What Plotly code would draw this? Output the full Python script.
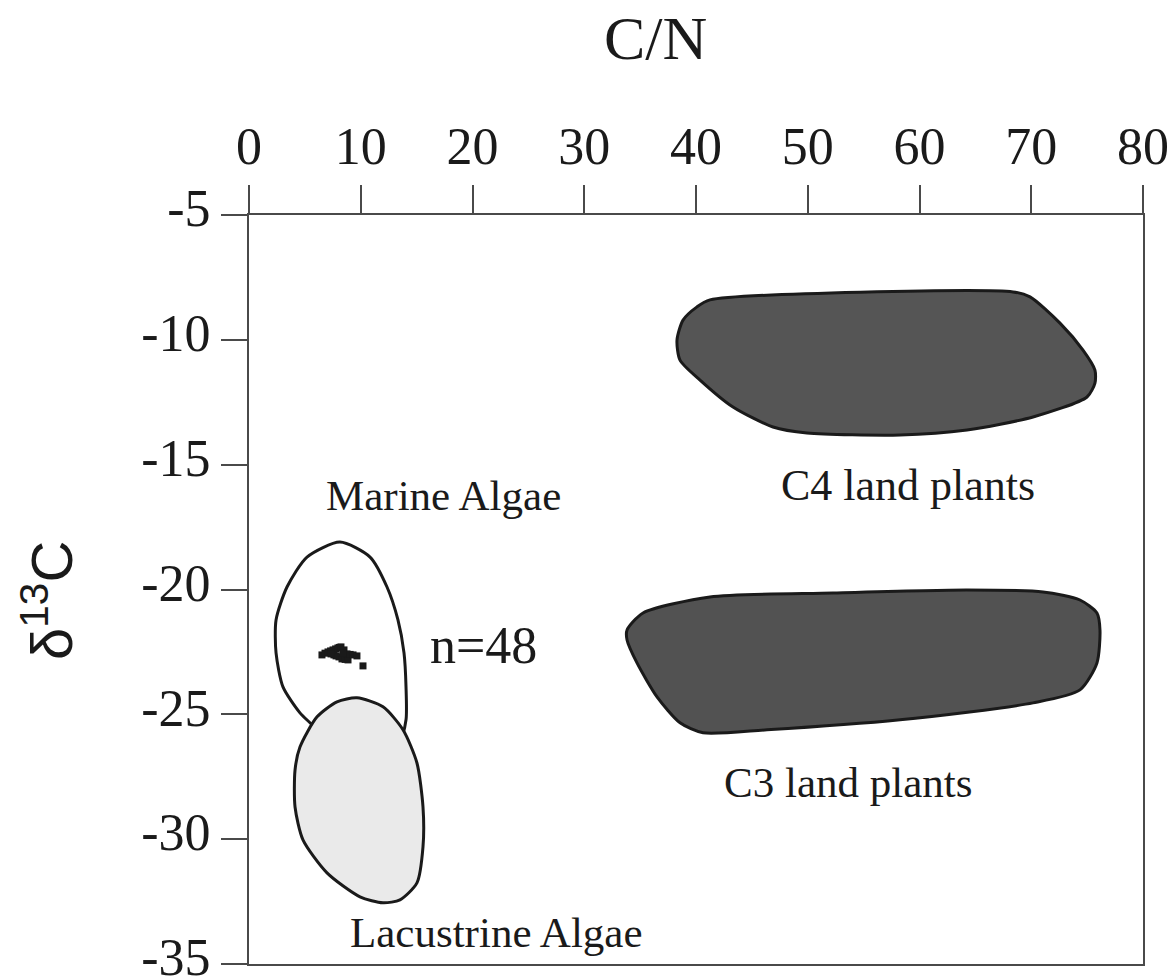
import plotly.graph_objects as go

# Source fields on the C/N vs d13C plane (outline vertices, C/N and d13C)
marine_cn = [8.14, 10.83, 12.35, 13.33, 13.87, 14.05, 14.05, 13.51, 10.83, 7.25,
             5.64, 4.56, 3.04, 2.42, 2.42, 3.40, 5.19, 8.14]
marine_d13c = [-18.10, -18.70, -19.90, -21.22, -22.54, -23.90, -25.22, -26.03, -26.51, -26.23,
               -25.42, -24.94, -23.90, -22.54, -21.22, -19.90, -18.70, -18.10]

lacustrine_cn = [9.66, 11.99, 13.78, 15.03, 15.57, 15.57, 15.03, 13.51, 11.99, 9.93,
                 6.98, 4.83, 4.12, 4.12, 4.56, 6.09, 7.87, 9.66]
lacustrine_d13c = [-24.34, -24.70, -25.62, -26.95, -28.71, -30.31, -31.75, -32.43, -32.55, -32.31,
                   -31.35, -30.03, -28.71, -27.23, -26.31, -25.10, -24.50, -24.34]

c4_cn = [41.25, 68.37, 69.89, 72.57, 74.63, 75.70, 75.70, 74.99, 70.16, 64.25,
         58.26, 49.93, 46.89, 43.31, 40.36, 38.57, 38.30, 38.84, 40.09, 41.25]
c4_d13c = [-8.40, -8.08, -8.28, -9.33, -10.41, -11.21, -11.73, -12.29, -13.09, -13.61,
           -13.81, -13.73, -13.49, -12.69, -11.61, -10.81, -10.01, -9.21, -8.68, -8.40]

c3_cn = [33.83, 35.26, 41.25, 52.26, 64.25, 71.05, 74.36, 75.88, 76.15, 75.88,
         74.36, 70.16, 58.26, 46.35, 40.63, 38.57, 36.51, 34.72, 33.83, 33.83]
c3_d13c = [-21.62, -20.94, -20.30, -20.14, -20.02, -20.10, -20.42, -20.94, -21.62, -22.94,
           -24.02, -24.54, -25.22, -25.62, -25.74, -25.34, -24.30, -22.94, -22.02, -21.62]

# Measured samples (n=48, many overlapping)
sample_cn = [6.53, 6.80, 7.07, 7.30, 7.52, 7.75, 7.96, 8.10, 8.23, 8.50,
             7.60, 7.79, 8.05, 8.32, 8.60, 8.86, 8.77, 9.05, 9.31, 9.66,
             7.34, 8.40, 10.20]
sample_d13c = [-22.62, -22.55, -22.50, -22.46, -22.42, -22.38, -22.34, -22.32, -22.30, -22.42,
               -22.62, -22.66, -22.70, -22.78, -22.80, -22.82, -22.58, -22.60, -22.62, -22.66,
               -22.58, -22.55, -23.06]

x_ticks = [0, 10, 20, 30, 40, 50, 60, 70, 80]
x_ticktext = ["0", "10", "20", "30", "40", "50", "60", "70", "80"]
y_ticks = [-5, -10, -15, -20, -25, -30, -35]
y_ticktext = ["-5", "-10", "-15", "-20", "-25", "-30", "-35"]

SERIF = "Liberation Serif"
INK = "#1a1a1a"
AXIS = "#4a4a4a"

fig = go.Figure()

def field(xs, ys, fill):
    fig.add_trace(go.Scatter(
        x=xs, y=ys, mode="lines", fill="toself", fillcolor=fill,
        line=dict(color=INK, width=3, shape="spline", smoothing=0.7),
        hoverinfo="skip", showlegend=False,
    ))

field(marine_cn, marine_d13c, "white")
field(lacustrine_cn, lacustrine_d13c, "#eaeaea")
field(c4_cn, c4_d13c, "#555555")
field(c3_cn, c3_d13c, "#525252")

fig.add_trace(go.Scatter(
    x=sample_cn, y=sample_d13c, mode="markers",
    marker=dict(symbol="square", size=7, color=INK, line=dict(width=0)),
    hoverinfo="skip", showlegend=False,
))

labels = [
    ("Marine Algae", 17.36, -16.25, 43),
    ("C4 land plants", 58.97, -15.85, 44),
    ("n=48", 20.94, -22.25, 52),
    ("C3 land plants", 53.6, -27.75, 43),
    ("Lacustrine Algae", 22.19, -33.75, 43),
]
for text, lx, ly, size in labels:
    fig.add_annotation(x=lx, y=ly, xref="x", yref="y", text=text, showarrow=False,
                       font=dict(family=SERIF, size=size, color=INK),
                       xanchor="center", yanchor="middle")

fig.update_layout(
    width=1174, height=978,
    margin=dict(l=249, r=31, t=215, b=14, autoexpand=False),
    paper_bgcolor="white", plot_bgcolor="white",
    font=dict(family=SERIF, color=INK),
    xaxis=dict(
        range=[0, 80], side="top", tickvals=x_ticks, ticktext=x_ticktext,
        ticks="outside", ticklen=28, tickwidth=2, tickcolor=AXIS,
        showline=True, linecolor=AXIS, linewidth=2, mirror=True,
        showgrid=False, zeroline=False, ticklabeloverflow="allow", automargin=False,
        tickfont=dict(family=SERIF, size=52, color=INK),
    ),
    yaxis=dict(
        range=[-35, -5], tickvals=y_ticks, ticktext=y_ticktext,
        ticks="outside", ticklen=26, tickwidth=2, tickcolor=AXIS,
        showline=True, linecolor=AXIS, linewidth=2, mirror=True,
        showgrid=False, zeroline=False, ticklabeloverflow="allow", automargin=False,
        ticklabelshift=-7,
        tickfont=dict(family=SERIF, size=52, color=INK),
    ),
)

# Axis titles placed in pixel terms relative to the plot area
fig.add_annotation(x=(655 - 249) / 894, y=1 + (215 - 38) / 749, xref="paper", yref="paper",
                   text="C/N", showarrow=False,
                   font=dict(family=SERIF, size=62, color=INK),
                   xanchor="center", yanchor="middle")
fig.add_annotation(x=(47 - 249) / 894, y=(964 - 601) / 749, xref="paper", yref="paper",
                   text="δ<sup>13</sup>C", showarrow=False, textangle=-90,
                   font=dict(family="Liberation Sans", size=58, color=INK),
                   xanchor="center", yanchor="middle")

fig.write_html("out.html")
